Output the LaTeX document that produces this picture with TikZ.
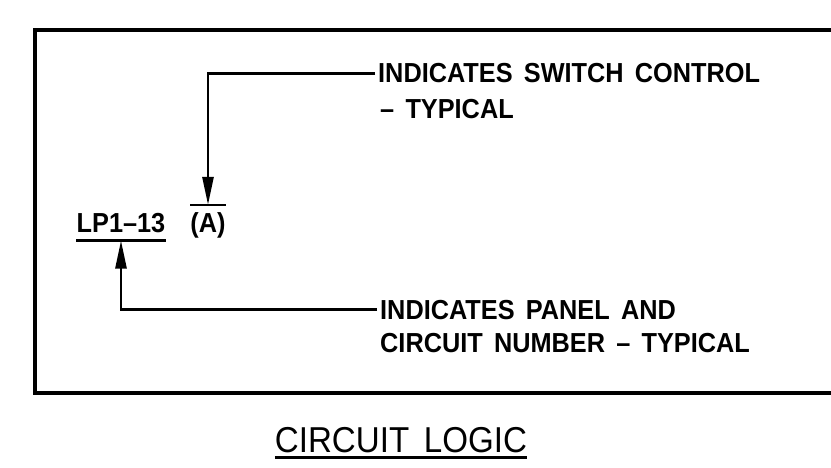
\documentclass[tikz,border=0pt]{standalone}
\usepackage{fontspec}
\setmainfont{Liberation Sans}[WordSpace=1.6,FakeStretch=0.92]
\usetikzlibrary{arrows.meta}

\begin{document}
\begin{tikzpicture}[x=1pt,y=-1pt,>={Triangle[length=28pt,width=11pt]},
  note/.style={anchor=base west,inner sep=0pt,font=\fontsize{27.5}{30}\selectfont\bfseries},
  tag/.style={anchor=base,inner xsep=0pt,font=\fontsize{27.5}{30}\selectfont\bfseries},
  lead/.style={line width=2.6pt}]
  \clip (0,0) rectangle (831,468);
  \draw[line width=4pt] (35,30) rectangle (870,393);
  \node[tag,inner ysep=7pt] (lp) at (121,233) {LP1--13};
  \node[tag,inner ysep=8pt] (sc) at (208,233) {(A)};
  \draw[lead] (lp.south west) -- (lp.south east);
  \draw[lead] (sc.north west) -- (sc.north east);
  \node[note] (sw1) at (378,83) {INDICATES SWITCH CONTROL};
  \node[note] (sw2) at (380,119) {-- TYPICAL};
  \node[note] (pn1) at (380,319) {INDICATES PANEL AND};
  \node[note] (pn2) at (380,352) {CIRCUIT NUMBER -- TYPICAL};
  \draw[lead,->] ([xshift=-3pt]sw1.west) -| (sc.north);
  \draw[lead,->] ([xshift=-3pt]pn1.west) -| (lp.south);
  \node[tag,inner ysep=5pt,font=\fontsize{36}{40}\selectfont] (title) at (401,452) {CIRCUIT LOGIC};
  \draw[lead] (title.south west) -- (title.south east);
\end{tikzpicture}
\end{document}
